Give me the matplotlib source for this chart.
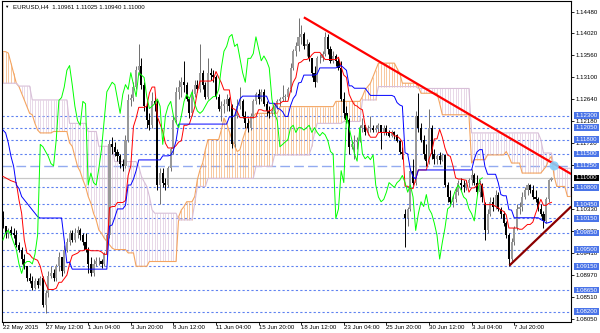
import numpy as np
import pandas as pd
import matplotlib
matplotlib.use("Agg")
import matplotlib.pyplot as plt
from matplotlib.patches import Rectangle
from matplotlib.transforms import blended_transform_factory

plt.rcParams['font.family'] = ['Liberation Sans', 'DejaVu Sans']

# EURUSD H4 candles, bar 0 = first bar on screen (22 May 2015)
closes = [
    1.1000, 1.0985, 1.0990, 1.0985, 1.0980, 1.0960, 1.0950, 1.0930, 1.0915, 1.0890,
    1.0885, 1.0870, 1.0885, 1.0875, 1.0890, 1.0835, 1.0860, 1.0895, 1.0900, 1.0890,
    1.0915, 1.0935, 1.0905, 1.0950, 1.0965, 1.0985, 1.0970, 1.0985, 1.0990, 1.0980,
    1.0965, 1.0950, 1.0920, 1.0900, 1.0920, 1.0925, 1.0925, 1.0920, 1.0940, 1.0980,
    1.1170, 1.1165, 1.1155, 1.1145, 1.1130, 1.1125, 1.1180, 1.1262, 1.1268, 1.1290,
    1.1325, 1.1335, 1.1295, 1.1250, 1.1220, 1.1210, 1.1260, 1.1255, 1.1085, 1.1110,
    1.1090, 1.1085, 1.1120, 1.1160, 1.1220, 1.1280, 1.1290, 1.1300, 1.1295, 1.1265,
    1.1235, 1.1275, 1.1295, 1.1285, 1.1320, 1.1295, 1.1270, 1.1320, 1.1315, 1.1310,
    1.1270, 1.1245, 1.1250, 1.1255, 1.1265, 1.1250, 1.1170, 1.1230, 1.1250, 1.1260,
    1.1230, 1.1215, 1.1205, 1.1230, 1.1260, 1.1275, 1.1265, 1.1280, 1.1255, 1.1240,
    1.1235, 1.1240, 1.1250, 1.1260, 1.1265, 1.1270, 1.1270, 1.1285, 1.1330, 1.1365,
    1.1375, 1.1395, 1.1400, 1.1375, 1.1380, 1.1350, 1.1320, 1.1300, 1.1350, 1.1350,
    1.1360, 1.1395, 1.1370, 1.1345, 1.1355, 1.1345, 1.1330, 1.1265, 1.1235, 1.1220,
    1.1165, 1.1170, 1.1175, 1.1180, 1.1205, 1.1210, 1.1195, 1.1205, 1.1205, 1.1200,
    1.1205, 1.1210, 1.1195, 1.1205, 1.1195, 1.1188, 1.1195, 1.1190, 1.1178, 1.1155,
    1.1150, 1.1015, 1.1035, 1.1115, 1.1090, 1.1230, 1.1205, 1.1180, 1.1150, 1.1135,
    1.1205, 1.1150, 1.1140, 1.1145, 1.1138, 1.1148, 1.1085, 1.1060, 1.1050, 1.1055,
    1.1070, 1.1090, 1.1085, 1.1080, 1.1090, 1.1095, 1.1105, 1.1090, 1.1070, 1.1085,
    1.1060, 1.0990, 1.1025, 1.1050, 1.1040, 1.1065, 1.1035, 1.1025, 1.1005, 1.0980,
    1.0930, 1.0965, 1.0995, 1.1035, 1.1040, 1.1060, 1.1075, 1.1085, 1.1075, 1.1060,
    1.1055, 1.1035, 1.1025, 1.1010, 1.1055, 1.1096, 1.1100,
]
highs = [
    1.1030, 1.1000, 1.0995, 1.1000, 1.0995, 1.0990, 1.0965, 1.0955, 1.0940, 1.0915,
    1.0900, 1.0895, 1.0890, 1.0890, 1.0895, 1.0895, 1.0865, 1.0905, 1.0915, 1.0910,
    1.0920, 1.0945, 1.0935, 1.0960, 1.0975, 1.0990, 1.0990, 1.0995, 1.1000, 1.0995,
    1.0985, 1.0985, 1.0955, 1.0935, 1.0930, 1.0935, 1.0935, 1.0930, 1.0945, 1.0985,
    1.1180, 1.1185, 1.1175, 1.1160, 1.1150, 1.1140, 1.1190, 1.1275, 1.1275, 1.1300,
    1.1335, 1.1380, 1.1350, 1.1300, 1.1260, 1.1235, 1.1280, 1.1270, 1.1262, 1.1120,
    1.1120, 1.1100, 1.1125, 1.1165, 1.1230, 1.1290, 1.1305, 1.1310, 1.1345, 1.1300,
    1.1270, 1.1285, 1.1305, 1.1305, 1.1380, 1.1325, 1.1300, 1.1350, 1.1330, 1.1325,
    1.1315, 1.1275, 1.1260, 1.1265, 1.1275, 1.1270, 1.1255, 1.1240, 1.1265, 1.1290,
    1.1265, 1.1240, 1.1225, 1.1235, 1.1265, 1.1280, 1.1285, 1.1285, 1.1285, 1.1260,
    1.1250, 1.1245, 1.1255, 1.1265, 1.1270, 1.1295, 1.1275, 1.1290, 1.1340, 1.1370,
    1.1385, 1.1435, 1.1420, 1.1405, 1.1390, 1.1385, 1.1350, 1.1335, 1.1355, 1.1360,
    1.1365, 1.1405, 1.1400, 1.1375, 1.1365, 1.1360, 1.1350, 1.1345, 1.1280, 1.1250,
    1.1225, 1.1180, 1.1190, 1.1185, 1.1210, 1.1225, 1.1210, 1.1210, 1.1230, 1.1210,
    1.1210, 1.1215, 1.1210, 1.1210, 1.1210, 1.1200, 1.1200, 1.1198, 1.1192, 1.1180,
    1.1165, 1.1035, 1.1040, 1.1120, 1.1140, 1.1240, 1.1278, 1.1215, 1.1190, 1.1170,
    1.1245, 1.1210, 1.1160, 1.1150, 1.1155, 1.1152, 1.1150, 1.1092, 1.1075, 1.1065,
    1.1080, 1.1095, 1.1100, 1.1095, 1.1095, 1.1100, 1.1118, 1.1110, 1.1105, 1.1095,
    1.1090, 1.1050, 1.1035, 1.1060, 1.1060, 1.1075, 1.1070, 1.1040, 1.1030, 1.1010,
    1.0985, 1.0975, 1.1000, 1.1045, 1.1050, 1.1070, 1.1080, 1.1090, 1.1088, 1.1085,
    1.1075, 1.1060, 1.1045, 1.1030, 1.1060, 1.1098, 1.11025,
]
lows = [
    1.0995, 1.0975, 1.0975, 1.0980, 1.0975, 1.0955, 1.0945, 1.0920, 1.0910, 1.0885,
    1.0880, 1.0865, 1.0868, 1.0870, 1.0875, 1.0830, 1.0818, 1.0850, 1.0890, 1.0885,
    1.0885, 1.0905, 1.0895, 1.0900, 1.0945, 1.0960, 1.0965, 1.0965, 1.0975, 1.0970,
    1.0960, 1.0945, 1.0900, 1.0895, 1.0895, 1.0915, 1.0918, 1.0912, 1.0915, 1.0935,
    1.0975, 1.1150, 1.1145, 1.1135, 1.1120, 1.1115, 1.1120, 1.1175, 1.1250, 1.1260,
    1.1285, 1.1315, 1.1285, 1.1240, 1.1205, 1.1200, 1.1205, 1.1240, 1.1075, 1.1045,
    1.1080, 1.1075, 1.1080, 1.1115, 1.1150, 1.1215, 1.1265, 1.1270, 1.1280, 1.1260,
    1.1225, 1.1230, 1.1270, 1.1280, 1.1280, 1.1285, 1.1265, 1.1265, 1.1305, 1.1300,
    1.1265, 1.1240, 1.1218, 1.1235, 1.1240, 1.1240, 1.1162, 1.1165, 1.1225, 1.1245,
    1.1225, 1.1205, 1.1195, 1.1200, 1.1225, 1.1255, 1.1255, 1.1260, 1.1250, 1.1230,
    1.1225, 1.1230, 1.1235, 1.1245, 1.1250, 1.1260, 1.1260, 1.1265, 1.1280, 1.1325,
    1.1355, 1.1365, 1.1380, 1.1370, 1.1355, 1.1345, 1.1310, 1.1290, 1.1300, 1.1340,
    1.1345, 1.1355, 1.1360, 1.1340, 1.1340, 1.1335, 1.1325, 1.1260, 1.1225, 1.1215,
    1.1150, 1.1160, 1.1140, 1.1160, 1.1175, 1.1195, 1.1190, 1.1190, 1.1195, 1.1195,
    1.1195, 1.1195, 1.1160, 1.1190, 1.1190, 1.1185, 1.1185, 1.1182, 1.1175, 1.1150,
    1.1140, 1.0955, 1.1000, 1.1030, 1.1085, 1.1085, 1.1195, 1.1175, 1.1140, 1.1125,
    1.1130, 1.1140, 1.1130, 1.1130, 1.1130, 1.1135, 1.1080, 1.1050, 1.1045, 1.1040,
    1.1050, 1.1065, 1.1075, 1.1070, 1.1075, 1.1080, 1.1085, 1.1085, 1.1065, 1.1060,
    1.1050, 1.0970, 1.0985, 1.1020, 1.1030, 1.1035, 1.1030, 1.1015, 1.1000, 1.0975,
    1.0915, 1.0925, 1.0960, 1.0990, 1.1025, 1.1030, 1.1055, 1.1065, 1.1068, 1.1055,
    1.1050, 1.1030, 1.1020, 1.0995, 1.1005, 1.1050, 1.10940,
]
first_open = 1.1020
gap_opens = {151: 1.1025, 181: 1.1045, 206: 1.10961}  # weekend gaps / last bar

# indicator values left of the first full window
tenkan_lead = [1.1103, 1.1100, 1.1097, 1.1094, 1.1092, 1.1090, 1.1054, 1.1026]
kijun_lead = [1.1200, 1.1194, 1.1173, 1.1145, 1.1124, 1.1085, 1.1078, 1.1061, 1.1054,
              1.1047, 1.1040, 1.1033, 1.1026, 1.1019, 1.1016, 1.1016, 1.1016, 1.1016,
              1.1016, 1.1016, 1.1016, 1.1016, 1.1016, 1.0970, 1.0922]

# senkou spans (value, number of bars), bars 0..213
span_a_runs = [
    (1.1364, 2), (1.1361, 1), (1.1340, 1), (1.1319, 1), (1.1298, 1), (1.1291, 1),
    (1.1277, 1), (1.1263, 1), (1.1249, 1), (1.1235, 1), (1.1232, 1), (1.1214, 1),
    (1.1200, 1), (1.1194, 5), (1.1197, 6), (1.1173, 1), (1.1166, 1), (1.1145, 1),
    (1.1124, 1), (1.1113, 1), (1.1096, 1), (1.1082, 1), (1.1061, 1), (1.1047, 1),
    (1.1026, 1), (1.1012, 1), (1.0991, 1), (1.0984, 1), (1.0974, 1), (1.0967, 1),
    (1.0960, 1), (1.0953, 1), (1.0950, 5), (1.0943, 3), (1.0915, 5), (1.0925, 11),
    (1.1019, 1), (1.1033, 1), (1.1040, 1), (1.1050, 3), (1.1061, 1), (1.1096, 1),
    (1.1117, 1), (1.1131, 1), (1.1159, 1), (1.1180, 5), (1.1200, 1), (1.1225, 1),
    (1.1214, 1), (1.1197, 1), (1.1180, 1), (1.1166, 1), (1.1155, 1), (1.1159, 1),
    (1.1180, 1), (1.1197, 1), (1.1211, 1), (1.1221, 1), (1.1228, 1), (1.1235, 9),
    (1.1249, 21), (1.1260, 10), (1.1270, 1), (1.1284, 1), (1.1291, 1), (1.1298, 1),
    (1.1312, 1), (1.1326, 1), (1.1340, 7), (1.1329, 1), (1.1319, 1), (1.1298, 6),
    (1.1291, 1), (1.1277, 7), (1.1256, 1), (1.1232, 11), (1.1131, 1), (1.1138, 5),
    (1.1148, 7), (1.1155, 1), (1.1145, 1), (1.1131, 4), (1.1110, 8), (1.1117, 1),
    (1.1124, 1), (1.1138, 1), (1.1145, 1), (1.1103, 1), (1.1082, 4), (1.1061, 2),
]
span_b_runs = [
    (1.1298, 6), (1.1292, 5), (1.1263, 14), (1.1214, 7), (1.1197, 4), (1.1166, 6),
    (1.1134, 9), (1.1124, 1), (1.1103, 1), (1.1092, 1), (1.1082, 1), (1.1061, 1),
    (1.1033, 1), (1.1026, 9), (1.1012, 6), (1.1047, 1), (1.1082, 4), (1.1099, 18),
    (1.1124, 7), (1.1148, 14), (1.1166, 1), (1.1194, 1), (1.1214, 10), (1.1218, 7),
    (1.1263, 6), (1.1291, 15), (1.1287, 20), (1.1194, 26), (1.1180, 1), (1.1152, 4),
    (1.1120, 7),
]

x_label_bars = [0, 16, 32, 48, 64, 80, 96, 112, 128, 144, 160, 176, 192]
x_labels = ["22 May 2015", "27 May 12:00", "1 Jun 04:00", "3 Jun 20:00", "8 Jun 12:00",
            "11 Jun 04:00", "15 Jun 20:00", "18 Jun 12:00", "23 Jun 04:00",
            "25 Jun 20:00", "30 Jun 12:00", "3 Jul 04:00", "7 Jul 20:00"]
price_labels = ["1.08050", "1.08510", "1.08970", "1.09410", "1.09870", "1.10330",
                "1.10800", "1.11260", "1.11720", "1.12180", "1.12640", "1.13100",
                "1.13560", "1.14020", "1.14480"]

dotted_levels = [1.1230, 1.1205, 1.1180, 1.1150, 1.1080, 1.1045, 1.1015, 1.0985,
                 1.0950, 1.0915, 1.0865, 1.0820]
dashed_level = 1.1125
bid = 1.1100
trend_down = ([113.0, 213.4], [1.14358, 1.1108])
trend_up = ([190.2, 213.4], [1.09166, 1.1040])
touch_point = (207, 1.1125)
header = "EURUSD,H4  1.10961 1.11025 1.10940 1.11000"

# ------------------------------------------------------------------
o = np.array([first_open] + closes[:-1])
for k, v in gap_opens.items():
    o[k] = v
c = np.array(closes)
h = np.maximum(np.array(highs), np.maximum(o, c))
l = np.minimum(np.array(lows), np.minimum(o, c))
idx = np.arange(len(c))

hs, ls = pd.Series(h), pd.Series(l)
tenkan = ((hs.rolling(9).max() + ls.rolling(9).min()) / 2).to_numpy()
kijun = ((hs.rolling(26).max() + ls.rolling(26).min()) / 2).to_numpy()
tenkan[:len(tenkan_lead)] = tenkan_lead
kijun[:len(kijun_lead)] = kijun_lead

span_a = np.repeat([v for v, n in span_a_runs], [n for v, n in span_a_runs])
span_b = np.repeat([v for v, n in span_b_runs], [n for v, n in span_b_runs])
cidx = np.arange(len(span_a))

fig = plt.figure(figsize=(6, 3.33), dpi=100)
ax = fig.add_axes([1.5 / 600, 11.5 / 333, 569.5 / 600, 320.5 / 333])
ax.set_xlim(-0.56, 213.33)
ax.set_ylim(1.079946, 1.14700)

# levels
for lv in dotted_levels:
    ax.axhline(lv, color='#5f82f0', lw=0.8, ls=(0, (2, 2)), zorder=1)
ax.axhline(dashed_level, color='#93abf0', lw=1.0, ls=(0, (7, 3)), zorder=1)
ax.axhline(bid, color='#c8c8c8', lw=0.9, zorder=1)

# kumo
up = span_a >= span_b
ax.vlines(cidx, np.minimum(span_a, span_b), np.maximum(span_a, span_b),
          colors=np.where(up, '#f4a460', '#d8bfd8'), lw=0.42, zorder=2)
ax.plot(cidx, span_a, color='#f4a460', lw=0.8, zorder=2)
ax.plot(cidx, span_b, color='#d8bfd8', lw=0.8, zorder=2)

# candles
bull = c >= o
ax.vlines(idx, l, h, colors=np.where(bull, '#6e6e6e', 'black'), lw=0.7, zorder=3)
ax.bar(idx, np.maximum(np.abs(c - o), 0.00004), bottom=np.minimum(o, c), width=0.78,
       color=np.where(bull, '#999999', 'black'), lw=0, zorder=3)

# ichimoku lines
ax.plot(idx, tenkan, color='#ff0000', lw=0.7, zorder=4)
ax.plot(idx, kijun, color='#0000ff', lw=0.7, zorder=4)
ax.plot(idx[:-26], c[26:], color='#00ff00', lw=0.7, zorder=4)

# trend lines
ax.plot(*trend_down, color='#ff0000', lw=1.6, zorder=5, solid_capstyle='butt')
ax.plot(*trend_up, color='#8b0000', lw=1.6, zorder=5, solid_capstyle='butt')
ax.scatter([touch_point[0]], [touch_point[1]], s=44, color='#87cefa', alpha=0.9,
           edgecolors='none', zorder=6)

# axes
for sp in ax.spines.values():
    sp.set_color('black')
    sp.set_linewidth(0.8)
ax.yaxis.tick_right()
ax.set_yticks(np.linspace(1.0805, 1.1448, 15))
ax.set_yticklabels(price_labels)
ax.set_xticks(x_label_bars)
ax.set_xticklabels(x_labels, ha='left')
ax.tick_params(axis='y', length=2.2, width=0.6, pad=1.3, labelsize=4.4)
ax.tick_params(axis='x', length=2.2, width=0.6, pad=0.6, labelsize=4.4)

# price boxes on the scale
trans = blended_transform_factory(ax.transAxes, ax.transData)
bh = 6.5 / 4780
for lv in sorted(dotted_levels + [dashed_level, bid]):
    fc = 'black' if lv == bid else '#4a74e8'
    ax.add_patch(Rectangle((1.0044, lv - bh / 2), 0.0448, bh, transform=trans,
                           fc=fc, ec='none', clip_on=False, zorder=10))
    ax.text(1.0268, lv, "%.5f" % lv, transform=trans, ha='center', va='center',
            color='white', fontsize=4.4, clip_on=False, zorder=11)

fig.text(4.5 / 600, 1 - 6.5 / 333, u"\u25bc", fontsize=3.2, ha='left', va='center')
fig.text(13 / 600, 1 - 6.7 / 333, header, fontsize=4.4, ha='left', va='center')

fig.savefig("out.png", dpi=100)
